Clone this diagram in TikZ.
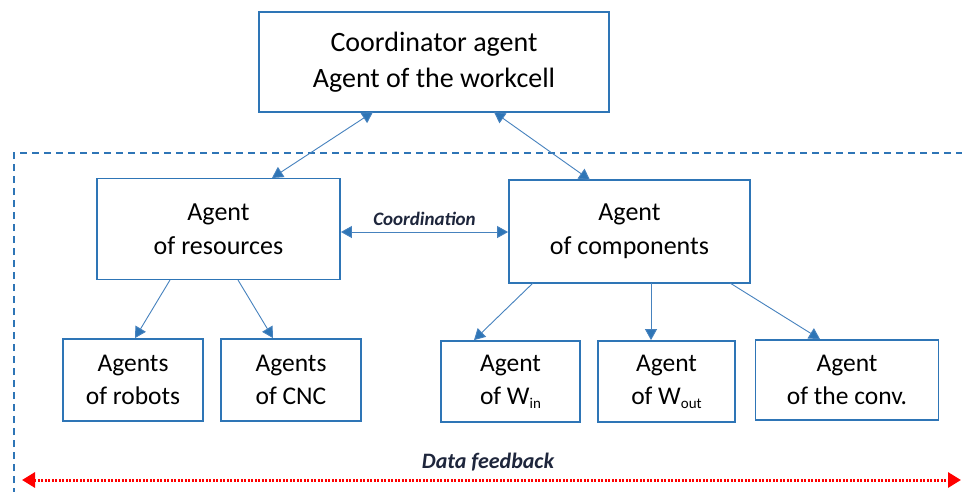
\documentclass[tikz,border=0pt]{standalone}
\usepackage{fontspec}
\setmainfont{Carlito}
\usetikzlibrary{arrows.meta}
\definecolor{boxblue}{RGB}{46,117,182}
\definecolor{linkblue}{RGB}{70,130,190}
\definecolor{labeldark}{RGB}{30,38,60}
\tikzset{
  agentbox/.style={draw=boxblue, line width=1.8pt, fill=white, align=center, inner sep=0pt, text=black},
  link/.style={draw=linkblue, line width=0.9pt, {Triangle[length=11pt,width=12pt,fill=boxblue]}-{Triangle[length=11pt,width=12pt,fill=boxblue]}},
  down/.style={draw=linkblue, line width=0.9pt, -{Triangle[length=11pt,width=12pt,fill=boxblue]}},
  biglbl/.style={font=\fontsize{28}{36}\selectfont},
  midlbl/.style={font=\fontsize{26}{34}\selectfont},
  smalllbl/.style={font=\fontsize{25.5}{33}\selectfont},
  tag/.style={font=\bfseries\itshape, text=labeldark, inner sep=0pt}
}
\begin{document}
\begin{tikzpicture}[x=1pt,y=-1pt]
\useasboundingbox (0,0) rectangle (962,491);
\fill[white] (0,0) rectangle (962,491);
% dashed frame
\draw[boxblue, line width=1.5pt, dash pattern=on 7pt off 5pt] (14,495) -- (14,153) -- (966,153);
% boxes
\node[agentbox, biglbl, minimum width=350pt, minimum height=100pt] (coord) at (434,62) {Coordinator agent\\Agent of the workcell};
\node[agentbox, midlbl, minimum width=243pt, minimum height=101pt] (res) at (218.5,229) {Agent\\of resources};
\node[agentbox, midlbl, minimum width=241pt, minimum height=103pt] (comp) at (629.5,231.5) {Agent\\of components};
\node[agentbox, smalllbl, minimum width=140pt, minimum height=82pt] (rob) at (133,380) {Agents\\of robots};
\node[agentbox, smalllbl, minimum width=140pt, minimum height=82pt] (cnc) at (291,380) {Agents\\of CNC};
\node[agentbox, smalllbl, minimum width=139pt, minimum height=81pt] (win) at (510.5,381.5) {Agent\\of W\raisebox{-0.35ex}{\fontsize{15}{15}\selectfont in}};
\node[agentbox, smalllbl, minimum width=137pt, minimum height=81pt] (wout) at (666.5,381.5) {Agent\\of W\raisebox{-0.35ex}{\fontsize{15}{15}\selectfont out}};
\node[agentbox, smalllbl, minimum width=183pt, minimum height=80pt] (conv) at (847,380) {Agent\\of the conv.};
% connectors
\coordinate (c1) at (373,112);
\coordinate (r1) at (272,178);
\coordinate (c2) at (494,112);
\coordinate (k1) at (590,180);
\draw[link] (c1) -- (r1);
\draw[link] (c2) -- (k1);
\draw[link] (res.east |- 0,232) -- (comp.west |- 0,232) node[midway, above=6pt, tag, font=\fontsize{19}{19}\selectfont\bfseries\itshape] (coordlbl) {Coordination};
\coordinate (r2) at (170,280);
\coordinate (r3) at (238,280);
\draw[down] (r2) -- (rob.north -| 135,0);
\draw[down] (r3) -- (cnc.north -| 273,0);
\coordinate (k2) at (533,283);
\coordinate (k3) at (651,283);
\coordinate (k4) at (730,283);
\draw[down] (k2) -- (win.north -| 474,0);
\draw[down] (k3) -- (wout.north -| 651,0);
\draw[down] (k4) -- (conv.north -| 820,0);
% data feedback
\coordinate (fl) at (22,480);
\coordinate (fr) at (961,480);
\draw[red, line width=3pt, dash pattern=on 2pt off 1.5pt, {Triangle[length=13pt,width=15pt,fill=red,sep=0pt]}-{Triangle[length=13pt,width=15pt,fill=red]}] (fl) -- (fr);
\node[tag, font=\fontsize{22}{22}\selectfont\bfseries\itshape] (fb) at (488,462) {Data feedback};
\end{tikzpicture}
\end{document}
